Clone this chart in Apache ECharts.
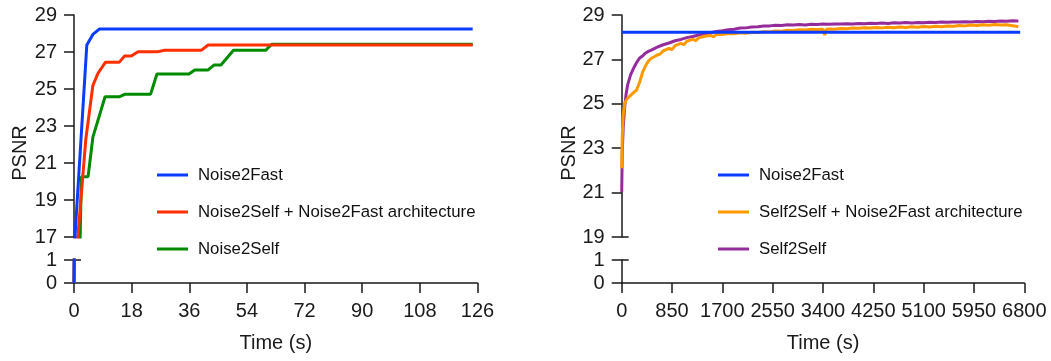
<!DOCTYPE html>
<html><head><meta charset="utf-8">
<script src="https://cdn.jsdelivr.net/npm/echarts@6/dist/echarts.min.js"></script>
<style>html,body{margin:0;padding:0;background:#fff}#c{width:1051px;height:361px}</style>
</head><body><div id="c"></div>
<script>
// ---------- DATA ----------
// Left panel: [time (s), PSNR]
const noise2fastLeft = [[0,0],[0.3,17],[4.0,27.38],[5.9,27.95],[8.0,28.25],[124.5,28.25]];
const n2sArchLeft = [[0,0],[1.2,17],[3.7,22.3],[5.9,25.2],[7.5,25.85],[9.8,26.44],[14.1,26.44],[15.8,26.78],[17.9,26.78],[20.0,27.02],[26.3,27.02],[28.3,27.09],[39.8,27.1],[41.9,27.38],[124.5,27.38]];
const noise2selfLeft = [[0,0],[2.3,20.26],[4.4,20.26],[5.9,22.4],[9.7,24.58],[14.1,24.58],[15.8,24.71],[23.9,24.71],[25.9,25.81],[35.9,25.81],[37.7,26.03],[41.9,26.03],[43.8,26.3],[45.9,26.3],[49.8,27.09],[59.9,27.09],[61.7,27.42],[124.5,27.42]];

// Right panel: [time (s), PSNR]
const noise2fastRight = [[0,28.22],[6730,28.22]];
const s2sArchRight = [[0,22.1],[10,23.6],[25,24.5],[50,25.0],[75,25.15],[100,25.25],[150,25.38],[200,25.5],[250,25.62],[300,25.95],[350,26.4],[400,26.7],[450,26.92],[500,27.05],[550,27.12],[600,27.2],[650,27.24],[700,27.38],[800,27.5],[850,27.44],[900,27.62],[1000,27.72],[1050,27.66],[1100,27.82],[1200,27.9],[1250,27.84],[1300,27.97],[1400,28.04],[1500,28.08],[1550,28.02],[1600,28.13],[1700,28.12],[1800,28.17],[1900,28.15],[2000,28.2],[2100,28.18],[2200,28.22],[2300,28.21],[2400,28.25],[2500,28.24],[2600,28.28],[2700,28.27],[2800,28.31],[2900,28.3],[3000,28.34],[3100,28.33],[3200,28.36],[3300,28.35],[3400,28.36],[3430,28.1],[3460,28.36],[3500,28.37],[3600,28.36],[3700,28.39],[3800,28.38],[3900,28.41],[4000,28.4],[4100,28.43],[4200,28.41],[4300,28.44],[4400,28.42],[4500,28.45],[4600,28.43],[4700,28.46],[4800,28.44],[4900,28.47],[5000,28.45],[5100,28.48],[5200,28.46],[5300,28.49],[5400,28.47],[5500,28.5],[5600,28.49],[5700,28.53],[5800,28.51],[5900,28.55],[6000,28.53],[6100,28.56],[6200,28.54],[6300,28.57],[6400,28.55],[6500,28.56],[6600,28.52],[6700,28.48]];
const self2selfRight = [[0,21.04],[10,22.9],[25,23.9],[50,24.85],[75,25.45],[100,25.85],[150,26.3],[200,26.6],[250,26.85],[300,27.05],[350,27.15],[400,27.28],[450,27.36],[500,27.42],[600,27.55],[700,27.66],[800,27.74],[900,27.84],[1000,27.9],[1100,27.98],[1200,28.03],[1300,28.1],[1400,28.15],[1500,28.2],[1600,28.26],[1700,28.29],[1800,28.34],[1900,28.36],[2000,28.41],[2100,28.42],[2200,28.46],[2300,28.47],[2400,28.5],[2500,28.51],[2600,28.54],[2700,28.53],[2800,28.56],[2900,28.55],[3000,28.57],[3100,28.55],[3200,28.58],[3300,28.57],[3400,28.59],[3500,28.58],[3600,28.6],[3700,28.59],[3800,28.61],[3900,28.6],[4000,28.62],[4100,28.61],[4200,28.63],[4300,28.62],[4400,28.64],[4500,28.62],[4600,28.65],[4700,28.64],[4800,28.66],[4900,28.64],[5000,28.66],[5100,28.65],[5200,28.67],[5300,28.66],[5400,28.68],[5500,28.67],[5600,28.69],[5700,28.68],[5800,28.7],[5900,28.69],[6000,28.71],[6100,28.7],[6200,28.72],[6300,28.71],[6400,28.73],[6500,28.72],[6600,28.74],[6700,28.73]];

// Tick labels
const yTicksLeftUpper = [17,19,21,23,25,27,29];
const yTicksRightUpper = [19,21,23,25,27,29];
const yTicksLower = [0,1];
const xMaxLeft = 126, xStepLeft = 18;
const xMaxRight = 6800, xStepRight = 850;

const legendLeft = ['Noise2Fast','Noise2Self + Noise2Fast architecture','Noise2Self'];
const legendRight = ['Noise2Fast','Self2Self + Noise2Fast architecture','Self2Self'];

// ---------- CHART ----------
const FONT = '"Liberation Sans", Arial, Helvetica, sans-serif';
const AX = '#1a1a1a';
const C = {blue:'#0a3cff', red:'#ff2f00', green:'#008a00', orange:'#ff9900', purple:'#952c9c'};

function xAxisDef(grid, max, step, show) {
  return {
    type:'value', gridIndex:grid, min:0, max:max, interval:step, show:show,
    axisLine:{show:true, onZero:false, lineStyle:{color:AX, width:1.5}},
    axisTick:{show:true, length:10, lineStyle:{color:AX, width:1.5}},
    axisLabel:{fontSize:20, fontFamily:FONT, color:AX, margin:18, formatter:(v)=>String(v)},
    splitLine:{show:false},
    name:'Time (s)', nameLocation:'middle', nameGap:50,
    nameTextStyle:{fontSize:20, fontFamily:FONT, color:AX}
  };
}
function yAxisDef(grid, min, max, ticks) {
  return {
    type:'value', gridIndex:grid, min:min, max:max,
    axisLine:{show:true, onZero:false, lineStyle:{color:AX, width:1.5}},
    axisTick:{show:true, length:10, customValues:ticks, lineStyle:{color:AX, width:1.5}},
    axisLabel:{fontSize:20, fontFamily:FONT, color:AX, margin:17, customValues:ticks, formatter:(v)=>String(v)},
    splitLine:{show:false}
  };
}
// break caps: inner half of the tick at the axis break
function capAxisDef(grid, min, max, capValue) {
  return {
    type:'value', gridIndex:grid, min:min, max:max, position:'left',
    axisLine:{show:false},
    axisTick:{show:true, inside:true, length:7, customValues:[capValue], lineStyle:{color:AX, width:1.5}},
    axisLabel:{show:false},
    splitLine:{show:false}
  };
}
function line(name, data, color, xi, yi, z) {
  return {type:'line', name:name, data:data, xAxisIndex:xi, yAxisIndex:yi, showSymbol:false, symbol:'none',
    clip:true, z:z, lineStyle:{color:color, width:3}, itemStyle:{color:color}, animation:false};
}

const legendCommon = {
  orient:'vertical', itemWidth:31, itemHeight:3, itemGap:17, icon:'rect', selectedMode:false,
  textStyle:{fontSize:16.8, fontFamily:FONT, color:'#111', lineHeight:20, padding:[0,0,0,5]}
};

const option = {
  animation:false,
  backgroundColor:'#fff',
  grid:[
    {left:74, top:15, width:403.5, height:222},
    {left:74, top:260, width:403.5, height:23},
    {left:621.7, top:15, width:402.6, height:222},
    {left:621.7, top:260, width:402.6, height:23}
  ],
  xAxis:[
    xAxisDef(0, xMaxLeft, xStepLeft, false),
    xAxisDef(1, xMaxLeft, xStepLeft, true),
    xAxisDef(2, xMaxRight, xStepRight, false),
    xAxisDef(3, xMaxRight, xStepRight, true)
  ],
  yAxis:[
    yAxisDef(0, 17, 29, yTicksLeftUpper),
    yAxisDef(1, 0, 1, yTicksLower),
    yAxisDef(2, 19, 29, yTicksRightUpper),
    yAxisDef(3, 0, 1, yTicksLower),
    capAxisDef(0, 17, 29, 17),
    capAxisDef(1, 0, 1, 1),
    capAxisDef(2, 19, 29, 19),
    capAxisDef(3, 0, 1, 1)
  ],
  legend:[
    Object.assign({}, legendCommon, {left:152, top:160, data:legendLeft}),
    Object.assign({}, legendCommon, {left:713, top:160, data:legendRight})
  ],
  graphic:[
    {type:'text', x:20.5, y:153, rotation:Math.PI/2, style:{text:'PSNR', fontSize:20, fontFamily:FONT, fill:AX, align:'center', verticalAlign:'middle'}},
    {type:'text', x:569, y:153, rotation:Math.PI/2, style:{text:'PSNR', fontSize:20, fontFamily:FONT, fill:AX, align:'center', verticalAlign:'middle'}}
  ],
  series:[
    line('Noise2Self', noise2selfLeft, C.green, 0, 0, 2),
    line('Noise2Self + Noise2Fast architecture', n2sArchLeft, C.red, 0, 0, 3),
    line('Noise2Fast', noise2fastLeft, C.blue, 0, 0, 4),
    line('Noise2Self', noise2selfLeft, C.green, 1, 1, 2),
    line('Noise2Self + Noise2Fast architecture', n2sArchLeft, C.red, 1, 1, 3),
    line('Noise2Fast', noise2fastLeft, C.blue, 1, 1, 4),
    line('Self2Self', self2selfRight, C.purple, 2, 2, 2),
    line('Self2Self + Noise2Fast architecture', s2sArchRight, C.orange, 2, 2, 3),
    line('Noise2Fast', noise2fastRight, C.blue, 2, 2, 4),
    line('Self2Self', self2selfRight, C.purple, 3, 3, 2),
    line('Self2Self + Noise2Fast architecture', s2sArchRight, C.orange, 3, 3, 3),
    line('Noise2Fast', noise2fastRight, C.blue, 3, 3, 4)
  ]
};
const chart = echarts.init(document.getElementById('c'), null, {renderer:'canvas'});
chart.setOption(option);
</script></body></html>
